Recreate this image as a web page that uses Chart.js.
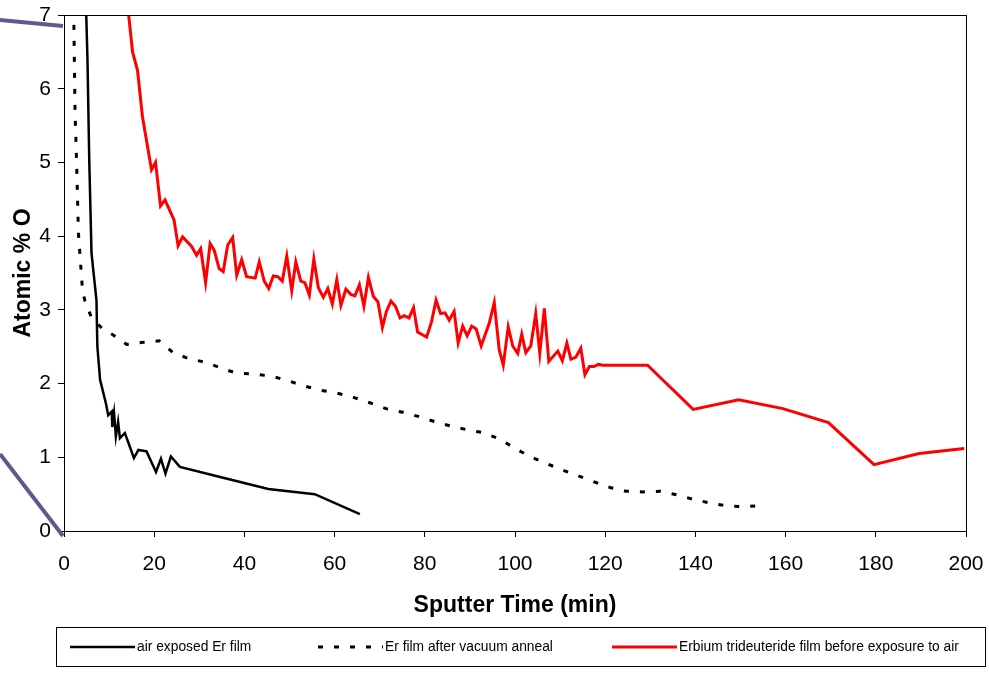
<!DOCTYPE html>
<html>
<head>
<meta charset="utf-8">
<script src="https://cdn.jsdelivr.net/npm/chart.js@4"></script>
<style>
  html, body { margin: 0; padding: 0; background: #fff; }
  #wrap { width: 989px; height: 676px; }
</style>
</head>
<body>
<div id="wrap"><canvas id="chart" width="989" height="676"></canvas></div>
<script>
// air exposed Er film
var blackTime = [4.75, 5.2, 5.6, 6.1, 7.2, 7.4, 8.0, 9.3, 9.8, 10.6,
  10.7, 11.1, 11.5, 12.0, 12.4, 13.5, 15.5, 16.5, 18.3, 20.4,
  21.5, 22.5, 23.7, 25.7, 35.5, 45.3, 55.6, 65.6];
var blackO = [7.4, 6.41, 5.03, 3.77, 3.13, 2.5, 2.05, 1.73, 1.57, 1.62,
  1.41, 1.6, 1.28, 1.48, 1.26, 1.33, 0.99, 1.1, 1.08, 0.8,
  0.98, 0.78, 1.01, 0.87, 0.72, 0.57, 0.5, 0.23];

// Er film after vacuum anneal
var annealTime = [2.05, 2.2, 2.44, 2.8, 3.2, 4.1, 4.65, 6.0, 8.4, 10.9,
  13.9, 17.6, 21.1, 24.2, 27.6, 31.3, 34.8, 38.3, 42.0, 46.0,
  49.6, 53.1, 56.9, 60.6, 64.3, 67.8, 71.4, 75.1, 78.8, 82.4,
  86.0, 89.6, 93.3, 96.8, 100.0, 103.3, 106.8, 110.4, 113.9, 117.4,
  121.1, 124.6, 128.3, 132.2, 135.9, 139.5, 143.2, 147.1, 150.8, 155.4];
var annealO = [7.3, 6.84, 5.71, 4.99, 4.04, 3.27, 3.12, 2.91, 2.75, 2.66,
  2.53, 2.56, 2.58, 2.42, 2.34, 2.29, 2.21, 2.14, 2.13, 2.10,
  2.04, 1.97, 1.91, 1.87, 1.81, 1.74, 1.66, 1.61, 1.55, 1.48,
  1.42, 1.37, 1.33, 1.24, 1.12, 1.01, 0.92, 0.83, 0.75, 0.67,
  0.59, 0.54, 0.53, 0.54, 0.49, 0.43, 0.38, 0.34, 0.33, 0.35];

// Erbium trideuteride film before exposure to air
var redTime = [13.3, 15.2, 16.3, 17.4, 19.4, 20.3, 21.4, 22.4, 24.4, 25.3,
  26.3, 28.3, 29.4, 30.3, 31.4, 32.4, 33.3, 34.4, 35.3, 36.3,
  37.4, 38.3, 39.4, 40.5, 42.4, 43.3, 44.4, 45.4, 46.4, 47.4,
  48.4, 49.4, 50.5, 51.4, 52.5, 53.4, 54.4, 55.4, 56.4, 57.5,
  58.5, 59.5, 60.5, 61.4, 62.5, 63.6, 64.5, 65.5, 66.5, 67.5,
  68.6, 69.6, 70.6, 71.5, 72.5, 73.5, 74.5, 75.4, 76.5, 77.5,
  78.4, 80.4, 81.5, 82.5, 83.5, 84.5, 85.4, 86.5, 87.4, 88.4,
  89.4, 90.4, 91.4, 92.5, 94.3, 95.4, 96.5, 97.4, 98.5, 99.5,
  100.6, 101.5, 102.4, 103.5, 104.6, 105.5, 106.5, 107.5, 109.5, 110.5,
  111.5, 112.4, 113.5, 114.6, 115.5, 116.5, 117.5, 118.5, 119.5, 129.4,
  139.5, 149.6, 159.4, 169.5, 179.6, 189.6, 199.6];
var redO = [7.6, 6.5, 6.25, 5.62, 4.9, 5.0, 4.41, 4.49, 4.22, 3.87,
  3.99, 3.86, 3.74, 3.83, 3.37, 3.9, 3.81, 3.56, 3.52, 3.88,
  3.98, 3.47, 3.68, 3.45, 3.43, 3.65, 3.39, 3.29, 3.46, 3.45,
  3.39, 3.73, 3.26, 3.65, 3.39, 3.37, 3.2, 3.69, 3.3, 3.17,
  3.29, 3.08, 3.41, 3.06, 3.28, 3.21, 3.19, 3.34, 3.05, 3.44,
  3.18, 3.11, 2.76, 2.98, 3.12, 3.05, 2.89, 2.92, 2.89, 3.03,
  2.7, 2.63, 2.84, 3.13, 2.95, 2.96, 2.86, 2.98, 2.55, 2.78,
  2.65, 2.78, 2.74, 2.51, 2.82, 3.1, 2.46, 2.25, 2.77, 2.51,
  2.41, 2.67, 2.42, 2.51, 2.95, 2.41, 3.02, 2.3, 2.44, 2.31,
  2.55, 2.33, 2.36, 2.48, 2.12, 2.23, 2.23, 2.26, 2.25, 2.25,
  1.65, 1.78, 1.66, 1.47, 0.9, 1.05, 1.12];

var seriesLabels = ['air exposed Er film', 'Er film after vacuum anneal',
  'Erbium trideuteride film before exposure to air'];

function pts(xs, ys) {
  return xs.map(function (x, i) { return {x: x, y: ys[i]}; });
}

var FONT = "'Liberation Sans', Arial, sans-serif";

// box around the plot, legend box and the two stray callout lines
var extras = {
  id: 'extras',
  afterDraw: function (chart) {
    var ctx = chart.ctx, a = chart.chartArea;
    ctx.save();
    ctx.strokeStyle = '#000';
    ctx.lineWidth = 1;
    ctx.strokeRect(Math.round(a.left) + 0.5, Math.round(a.top) + 0.5,
      Math.round(a.right - a.left), Math.round(a.bottom - a.top));

    // legend
    ctx.strokeRect(56.5, 627.5, 929, 39);
    var starts = [70, 318, 612];
    ctx.font = '13.8px ' + FONT;
    ctx.textBaseline = 'middle';
    ctx.textAlign = 'left';
    chart.data.datasets.forEach(function (ds, i) {
      ctx.beginPath();
      ctx.strokeStyle = ds.borderColor;
      ctx.lineWidth = ds.borderWidth;
      ctx.setLineDash(ds.borderDash || []);
      ctx.moveTo(starts[i], 647);
      ctx.lineTo(starts[i] + 65, 647);
      ctx.stroke();
      ctx.setLineDash([]);
      ctx.fillStyle = '#000';
      ctx.fillText(ds.label, starts[i] + 67, 647);
    });

    // callout lines from the source document
    ctx.strokeStyle = '#5c5c8c';
    ctx.lineWidth = 4;
    ctx.beginPath();
    ctx.moveTo(0, 20); ctx.lineTo(63, 26);
    ctx.moveTo(0, 454); ctx.lineTo(63, 536);
    ctx.stroke();
    ctx.restore();
  }
};

new Chart(document.getElementById('chart'), {
  type: 'line',
  data: {
    datasets: [
      {label: seriesLabels[0], data: pts(blackTime, blackO), borderColor: '#000',
        borderWidth: 2.5},
      {label: seriesLabels[1], data: pts(annealTime, annealO), borderColor: '#000',
        borderWidth: 3, borderDash: [5, 11]},
      {label: seriesLabels[2], data: pts(redTime, redO), borderColor: '#ff0000',
        borderWidth: 3}
    ]
  },
  options: {
    responsive: false,
    animation: false,
    events: [],
    layout: {padding: {left: 0, top: 15, right: 23, bottom: 57}},
    elements: {point: {radius: 0}, line: {tension: 0, fill: false, borderCapStyle: 'butt'}},
    plugins: {legend: {display: false}, tooltip: {enabled: false}},
    scales: {
      x: {
        type: 'linear', min: 0, max: 200,
        ticks: {stepSize: 20, color: '#000', padding: 15, font: {family: FONT, size: 21}},
        grid: {drawOnChartArea: false, tickLength: 6, color: '#000'},
        border: {color: '#000'},
        title: {display: true, text: 'Sputter Time (min)', color: '#000', padding: 0,
          font: {family: FONT, size: 23, weight: 'bold'}},
        afterFit: function (s) { s.height = 88; s.paddingLeft = 0; s.paddingRight = 0; }
      },
      y: {
        min: 0, max: 7,
        ticks: {stepSize: 1, color: '#000', padding: 7, font: {family: FONT, size: 21}},
        grid: {drawOnChartArea: false, tickLength: 6, color: '#000'},
        border: {color: '#000'},
        title: {display: true, text: 'Atomic % O', color: '#000', padding: {top: 10, bottom: 0},
          font: {family: FONT, size: 23, weight: 'bold'}},
        afterFit: function (s) { s.width = 64; s.paddingTop = 0; s.paddingBottom = 0; }
      }
    }
  },
  plugins: [extras]
});
</script>
</body>
</html>
